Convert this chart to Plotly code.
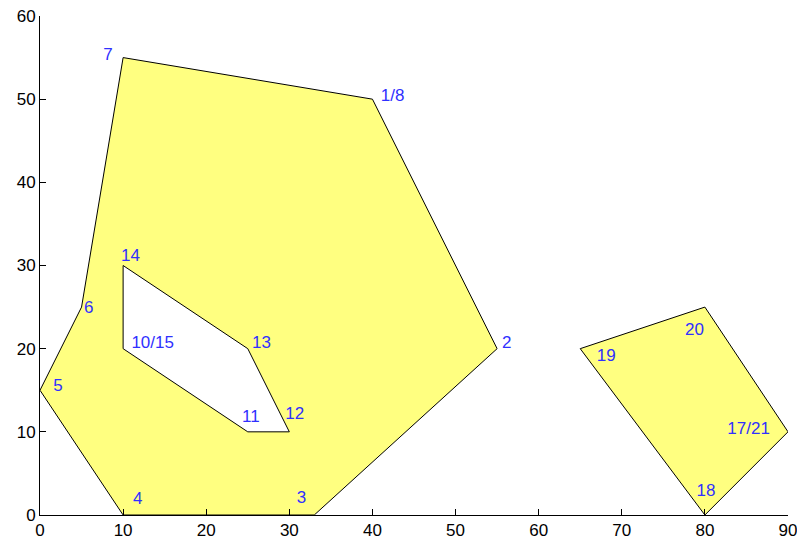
import plotly.graph_objects as go

# Outer polygon (vertices 1..8)
outer_x = [40, 55, 33, 10, 0, 5, 10, 40]
outer_y = [50, 20, 0, 0, 15, 25, 55, 50]
# Hole (vertices 10..15)
hole_x = [10, 25, 30, 25, 10, 10]
hole_y = [20, 10, 10, 20, 30, 20]
# Second polygon (vertices 17..21)
poly2_x = [90, 80, 65, 80, 90]
poly2_y = [10, 0, 20, 25, 10]

# Vertex labels and their positions
label_text = ["1/8", "2", "3", "4", "5", "6", "7",
              "10/15", "11", "12", "13", "14",
              "17/21", "18", "19", "20"]
label_x = [41, 55.6, 30.9, 11.2, 1.6, 5.3, 7.6,
           11, 24.3, 29.5, 25.5, 9.75,
           82.7, 79, 67, 77.6]
label_y = [50.3, 20.6, 2.0, 1.8, 15.4, 24.8, 55.2,
           20.6, 11.7, 12.1, 20.6, 31,
           10.2, 2.8, 19, 22.1]

x_ticks = list(range(0, 91, 10))
y_ticks = list(range(0, 61, 10))

fill_col = "#FFFF80"
font_fam = "Liberation Sans, Arial, sans-serif"

fig = go.Figure()
fig.add_trace(go.Scatter(x=outer_x, y=outer_y, mode="lines", fill="toself",
                         fillcolor=fill_col, line=dict(color="black", width=1),
                         cliponaxis=False, hoverinfo="skip"))
fig.add_trace(go.Scatter(x=hole_x, y=hole_y, mode="lines", fill="toself",
                         fillcolor="white", line=dict(color="black", width=1),
                         cliponaxis=False, hoverinfo="skip"))
fig.add_trace(go.Scatter(x=poly2_x, y=poly2_y, mode="lines", fill="toself",
                         fillcolor=fill_col, line=dict(color="black", width=1),
                         cliponaxis=False, hoverinfo="skip"))
fig.add_trace(go.Scatter(x=label_x, y=label_y, mode="text", text=label_text,
                         textposition="middle right",
                         textfont=dict(family=font_fam, size=17, color="#3030FF"),
                         cliponaxis=False, hoverinfo="skip"))

axis_common = dict(showgrid=False, zeroline=False, showline=True,
                   linecolor="black", linewidth=1, mirror=False,
                   ticks="inside", ticklen=6, tickcolor="black", tickwidth=1,
                   automargin=False, ticklabeloverflow="allow",
                   tickfont=dict(family=font_fam, size=17, color="black"))

fig.update_layout(
    width=797, height=545,
    margin=dict(l=40, r=9, t=16, b=30, autoexpand=False),
    paper_bgcolor="white", plot_bgcolor="white",
    showlegend=False,
    xaxis=dict(range=[0, 90], tickvals=x_ticks, **axis_common),
    yaxis=dict(range=[0, 60], tickvals=y_ticks, **axis_common),
)

fig.write_html("out.html", config={"displayModeBar": False},
               post_script="document.body.style.margin='0';document.body.style.overflow='hidden';")
